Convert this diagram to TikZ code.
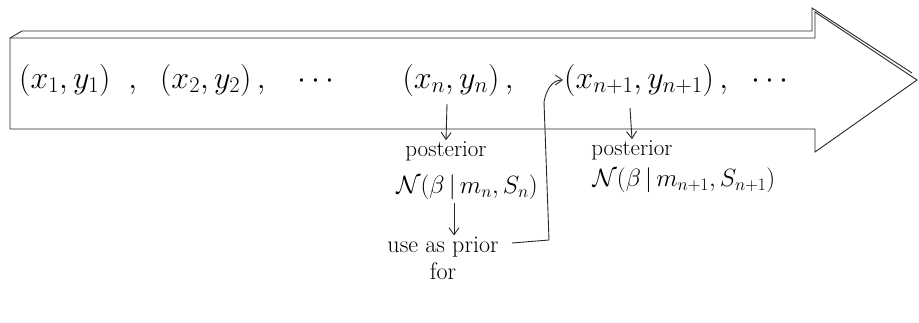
\RequirePackage{fix-cm}
\documentclass[tikz,border=0pt]{standalone}
\usetikzlibrary{arrows.meta}
\begin{document}
\begin{tikzpicture}[x=1pt,y=-1pt,
  outline/.style={line width=0.9pt,black!85},
  conn/.style={line width=0.9pt,black!85,-{Straight Barb[length=7pt,width=10pt]}},
  seq/.style={font=\fontsize{32}{36}\selectfont,inner sep=1pt},
  lbl/.style={font=\fontsize{23}{25}\selectfont,inner sep=1pt,align=center},
  uselbl/.style={font=\fontsize{24}{27}\selectfont,inner sep=1pt,align=center},
  gau/.style={font=\fontsize{25}{30}\selectfont,inner sep=1pt}]
\useasboundingbox (0,0) rectangle (919,322);
% big arrow
\draw[outline,line join=miter] (10,38) -- (815,38) -- (815,12) -- (917,80) -- (815,152) -- (815,129) -- (10,129) -- cycle;
\draw[outline] (10,38) -- (22,31) -- (812,31) -- (812,8) -- (912,73);
% sequence
\node[seq,anchor=west] (left) at (18,80) {$(x_1,y_1)\;\;,\;\;(x_2,y_2)\,,\;\;\;\cdots$};
\node[seq] (xn) at (458,80) {$(x_n,y_n)\,,$};
\node[seq,anchor=west] (xn1) at (563,80) {$(x_{n+1},y_{n+1})\,,\;\;\cdots$};
% first posterior branch
\node[lbl] (post1) at (446,151) {posterior};
\node[gau] (g1) at (467,187) {$\mathcal{N}(\beta\,|\,m_n,S_n)$};
\node[uselbl] (use) at (443,258) {use as prior\\for};
\coordinate (c0) at (512,243);
\coordinate (c1) at (549,240);
\coordinate (c2) at (544,102);
\draw[conn] (447,104) -- (post1.north);
\draw[conn] (454,203) -- (use.north -| 454,0);
\draw[conn] (c0) -- (c1) -- (c2) to[out=80,in=180] (xn1.west);
% second posterior branch
\node[lbl] (post2) at (632,150) {posterior};
\node[gau] (g2) at (684,180) {$\mathcal{N}(\beta\,|\,m_{n+1},S_{n+1})$};
\draw[conn] (630,108) -- (post2.north);
\end{tikzpicture}
\end{document}
